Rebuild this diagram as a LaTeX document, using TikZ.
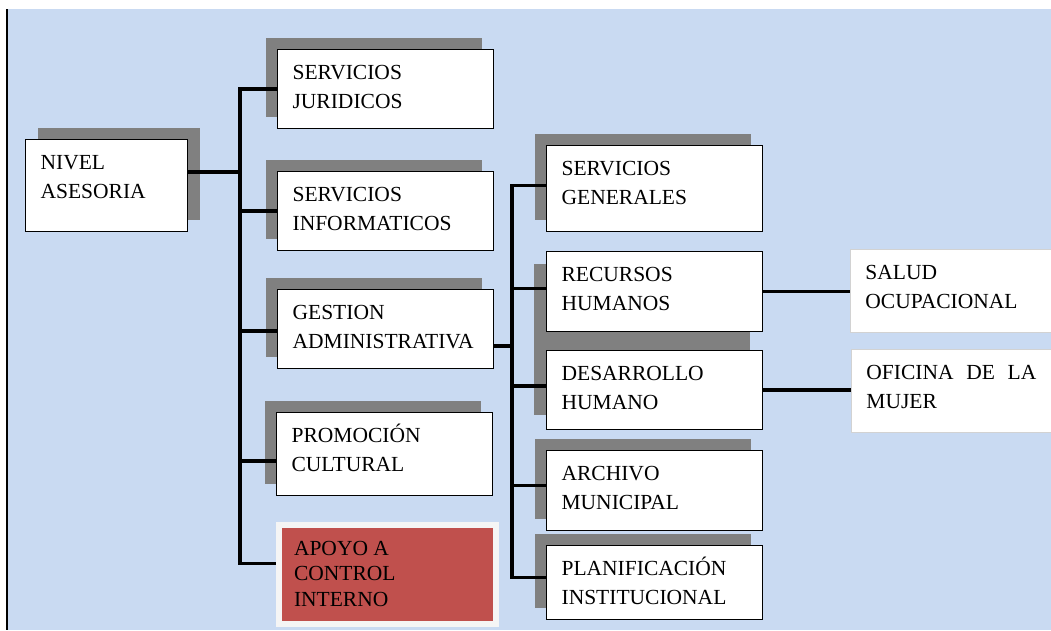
\documentclass[tikz,border=0pt]{standalone}
\usepackage{fontspec}
\setmainfont{Liberation Serif}
\usetikzlibrary{shadows}
\definecolor{fondo}{RGB}{201,218,242}
\definecolor{sombra}{RGB}{128,128,128}
\definecolor{rojo}{RGB}{192,80,77}
\newcommand{\texto}[3]{\parbox[c][#2][t]{#1}{\raggedright\rule{0pt}{30pt}#3}}
\tikzset{
  caja/.style={draw=black, line width=1.2pt, fill=white, anchor=north west, inner xsep=15pt, inner ysep=0pt, font=\fontsize{21.5}{29}\selectfont},
  cajab/.style={caja, draw=gray!35, line width=0.8pt},
  sombraizq/.style={drop shadow={shadow xshift=-12pt, shadow yshift=12pt, fill=sombra, opacity=1}},
  sombrader/.style={drop shadow={shadow xshift=12pt, shadow yshift=12pt, fill=sombra, opacity=1}},
  linea/.style={line width=3.6pt},
}
\begin{document}
\begin{tikzpicture}[x=1pt,y=-1pt]
\useasboundingbox (0,0) rectangle (1051,630);
\fill[fondo] (7,9) rectangle (1051,630);
\draw[line width=1.5pt] (7,9) -- (7,630);

% sombra de recursos y desarrollo
\fill[sombra] (534,264) rectangle (750,415);

\node[caja, sombrader] (nivel) at (25,139) {\texto{132pt}{92pt}{NIVEL\\ASESORIA}};
\node[caja, sombraizq] (juridicos) at (277,49) {\texto{186pt}{79pt}{SERVICIOS\\JURIDICOS}};
\node[caja, sombraizq] (informaticos) at (277,171) {\texto{186pt}{79pt}{SERVICIOS\\INFORMATICOS}};
\node[caja, sombraizq] (gestion) at (277,289) {\texto{186pt}{79pt}{GESTION\\ADMINISTRATIVA}};
\node[caja, sombraizq] (promocion) at (276,412) {\texto{186pt}{83pt}{PROMOCIÓN\\CULTURAL}};
\node[caja, draw=gray!8, line width=6pt, fill=rojo, font=\fontsize{21.5}{25.5}\selectfont,
      drop shadow={shadow xshift=2pt, shadow yshift=-3pt, fill=gray!70, opacity=0.5}]
      (apoyo) at (276,522) {\texto{187pt}{99pt}{APOYO A\\CONTROL\\INTERNO}};

\node[caja, sombraizq] (generales) at (546,145) {\texto{186pt}{86pt}{SERVICIOS\\GENERALES}};
\node[caja] (recursos) at (546,251) {\texto{186pt}{80pt}{RECURSOS\\HUMANOS}};
\node[caja] (desarrollo) at (546,350) {\texto{186pt}{79pt}{DESARROLLO\\HUMANO}};
\node[caja, sombraizq] (archivo) at (546,450) {\texto{186pt}{80pt}{ARCHIVO\\MUNICIPAL}};
\node[caja, sombraizq] (planificacion) at (546,545) {\texto{186pt}{74pt}{PLANIFICACIÓN\\INSTITUCIONAL}};

\node[cajab] (salud) at (850,249) {\texto{180pt}{83pt}{SALUD\\OCUPACIONAL}};
\node[cajab] (mujer) at (851,349) {\texto{180pt}{83pt}{\makebox[170pt][s]{OFICINA DE LA}\\MUJER}};

% lineas de la izquierda
\coordinate (ejeA) at (240,172);
\draw[linea] (nivel.east |- ejeA) -- (ejeA);
\draw[linea] (juridicos.west) -| (ejeA) |- ([yshift=11pt]apoyo.west);
\draw[linea] (informaticos.west) -| (ejeA);
\draw[linea] ([yshift=-2pt]gestion.west) -| (ejeA);
\draw[linea] ([yshift=-7pt]promocion.west) -| (ejeA);

% lineas de la derecha
\coordinate (ejeB) at (512,346);
\draw[linea] (gestion.east |- ejeB) -- (ejeB);
\draw[linea] ([yshift=3pt]generales.west) -| (ejeB) |- ([yshift=5pt]planificacion.west);
\draw[linea] ([yshift=3pt]recursos.west) -| (ejeB);
\draw[linea] ([yshift=4pt]desarrollo.west) -| (ejeB);
\draw[linea] ([yshift=5pt]archivo.west) -| (ejeB);
\draw[linea] (recursos.east) -- (recursos.east -| salud.west);
\draw[linea] (desarrollo.east) -- (desarrollo.east -| mujer.west);
\end{tikzpicture}
\end{document}
